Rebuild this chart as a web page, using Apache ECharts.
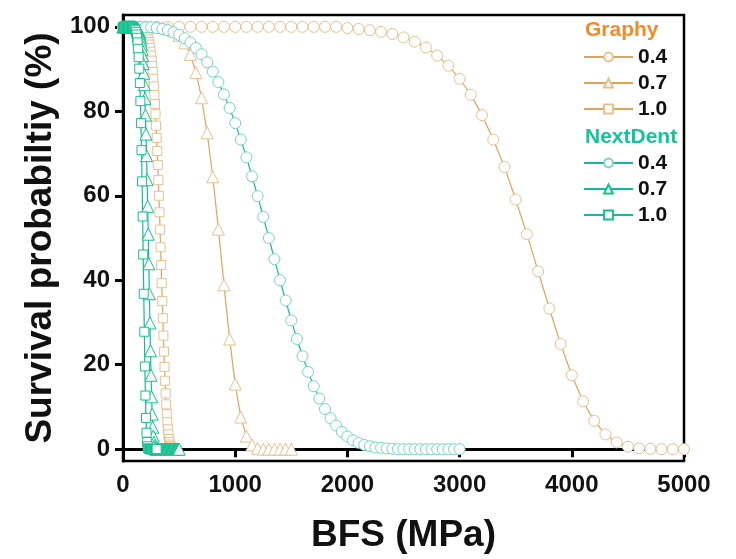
<!DOCTYPE html>
<html>
<head>
<meta charset="utf-8">
<script src="https://cdn.jsdelivr.net/npm/echarts@6/dist/echarts.min.js"></script>
<style>
html,body{margin:0;padding:0;background:#fff;}
#chart{width:736px;height:559px;}
</style>
</head>
<body>
<div id="chart"></div>
<script>
// ---------- data ----------
const xTicks = [0, 1000, 2000, 3000, 4000, 5000];
const yTicks = [0, 20, 40, 60, 80, 100];
const groupNames = ['Graphy', 'NextDent'];
const thicknessLabels = ['0.4', '0.7', '1.0'];

// BFS sampling of each curve (start, step in MPa)
const graphy04Start = 0,   graphy04Step = 100;
const graphy07Start = 0,   graphy07Step = 50;
const graphy10Start = 220, graphy10Step = 5;
const next04Start = 0,     next04Step = 50;
const next07Start = 0,     next07Step = 5;
const next10Start = 0,     next10Step = 5;

// survival probability (%)
const graphy04 = [100,100,100,100,100,100,100,100,100,100,100,100,100,100,100,100,100,100,100,100,
  99.7,99.5,99.2,98.8,98.3,97.5,96.5,95.1,93.2,90.8,87.7,83.9,79.1,73.3,66.8,59.1,50.9,42.1,33.3,24.9,
  17.5,11.3,6.7,3.5,1.6,0.6,0.2,0.1,0,0,0];
const graphy07 = [100,100,100,100,100,100,99.9,99.8,99.5,99.0,98.0,96.2,93.5,89.2,83.2,74.9,64.5,52.1,38.9,26.1,
  15.4,7.6,3.1,1.0,0.2,0,0,0,0,0,0];
const graphy10 = [97.5,97.0,96.4,95.8,95.0,94.1,93.2,92.0,90.7,89.3,87.7,85.9,83.9,81.7,79.3,76.6,73.7,70.6,67.3,63.7,
  60.0,56.1,52.0,47.8,43.6,39.3,35.1,31.0,26.9,23.1,19.5,16.2,13.2,10.6,8.3,6.4,4.7,3.5,2.4,1.7,
  1.1,0.7,0.4,0.3,0.2,0.1,0];
const next04 = [100,100,100,100,99.9,99.9,99.7,99.5,99.2,98.7,98.1,97.3,96.3,95.0,93.5,91.6,89.4,86.9,84.0,80.8,
  77.2,73.3,69.1,64.6,59.9,55.0,50.0,45.0,40.0,35.2,30.5,26.1,22.0,18.3,14.9,12.0,9.5,7.3,5.6,4.1,
  3.0,2.1,1.5,1.0,0.7,0.4,0.3,0.2,0.1,0,0,0,0,0,0,0,0,0,0,0,0];
const next07 = [100,100,100,100,100,100,100,100,100,100,100,100,100,100,100,100,100,100,100,100,
  100,99.9,99.9,99.9,99.8,99.7,99.5,99.3,99.1,98.7,98.3,97.7,96.9,95.9,94.7,93.2,91.3,89.0,86.3,83.0,
  79.1,74.6,69.5,63.8,57.5,50.9,43.9,36.8,29.9,23.3,17.5,12.4,8.3,5.2,3.1,1.6,0.8,0.3,0.1,0,
  0,0,0,0,0,0,0,0,0,0,0,0,0,0,0,0,0,0,0,0,
  0,0,0,0,0,0,0,0,0,0,0,0,0,0,0,0,0,0,0,0,0];
const next10 = [100,100,100,100,100,100,100,100,100,100,100,100,100,100,100,100,100,100,100,99.9,
  99.7,99.5,99.2,98.8,98.2,97.4,96.3,94.8,92.8,90.1,86.7,82.4,77.2,70.8,63.4,55.1,46.1,36.8,27.8,19.6,
  12.7,7.4,3.9,1.7,0.7,0.2,0.1,0,0,0,0,0,0,0,0,0,0,0,0,0,0];

// ---------- style ----------
const FONT = '"Liberation Sans", Arial, sans-serif';
const graphyLine = '#DFA35E', graphyMark = '#E8C08E', graphyHead = '#F28A2B';
const nextLine = '#14B99C', nextMark = '#12C08E', nextHead = '#12C49A';

function toPairs(start, step, vals) {
  return vals.map((v, i) => [start + i * step, v]);
}
function mk(name, data, symbol, size, line, mark) {
  return {
    name: name, type: 'line', data: data,
    symbol: symbol, symbolSize: size, showSymbol: true,
    lineStyle: { color: line, width: 1.2 },
    itemStyle: { color: '#fff', borderColor: mark, borderWidth: 1 },
    emphasis: { disabled: true },
    clip: true, animation: false
  };
}

const series = [
  mk(groupNames[0] + ' ' + thicknessLabels[0], toPairs(graphy04Start, graphy04Step, graphy04), 'circle', 11, graphyLine, graphyMark),
  mk(groupNames[0] + ' ' + thicknessLabels[1], toPairs(graphy07Start, graphy07Step, graphy07), 'triangle', 12, graphyLine, graphyMark),
  mk(groupNames[0] + ' ' + thicknessLabels[2], toPairs(graphy10Start, graphy10Step, graphy10), 'rect', 9, graphyLine, graphyMark),
  mk(groupNames[1] + ' ' + thicknessLabels[0], toPairs(next04Start, next04Step, next04), 'circle', 11, nextLine, '#72D3CB'),
  mk(groupNames[1] + ' ' + thicknessLabels[1], toPairs(next07Start, next07Step, next07), 'triangle', 12, nextLine, nextMark),
  mk(groupNames[1] + ' ' + thicknessLabels[2], toPairs(next10Start, next10Step, next10), 'rect', 9, nextLine, nextMark)
];

function legendFor(group, top) {
  return {
    data: thicknessLabels.map(t => group + ' ' + t),
    orient: 'vertical', left: 583, top: top, padding: 0,
    itemWidth: 49, itemHeight: 11, itemGap: 5,
    selectedMode: false,
    formatter: n => n.split(' ')[1],
    textStyle: { fontFamily: FONT, fontSize: 21, fontWeight: 'bold', color: '#111', lineHeight: 21 }
  };
}

const chart = echarts.init(document.getElementById('chart'), null, { renderer: 'canvas' });
chart.setOption({
  animation: false,
  backgroundColor: '#fff',
  grid: { left: 123, right: 52, top: 15, bottom: 96, show: true, borderColor: '#000', borderWidth: 2.5, backgroundColor: 'transparent' },
  xAxis: {
    type: 'value', min: xTicks[0], max: xTicks[xTicks.length - 1], interval: 1000,
    name: 'BFS (MPa)', nameLocation: 'middle', nameGap: 56,
    nameTextStyle: { fontFamily: FONT, fontSize: 37, fontWeight: 'bold', color: '#111' },
    axisLine: { lineStyle: { color: '#000', width: 3 } },
    axisTick: { length: 8, lineStyle: { color: '#000', width: 3 } },
    axisLabel: { margin: 12, fontFamily: FONT, fontSize: 24, fontWeight: 'bold', color: '#111',
      formatter: v => String(v) },
    splitLine: { show: false }
  },
  yAxis: {
    type: 'value', min: -2.8, max: 102.8,
    name: 'Survival probabiltiy (%)', nameLocation: 'middle', nameGap: 64,
    nameTextStyle: { fontFamily: FONT, fontSize: 37, fontWeight: 'bold', color: '#111' },
    axisLine: { lineStyle: { color: '#000', width: 3 } },
    axisTick: { length: 8, customValues: yTicks, lineStyle: { color: '#000', width: 3 } },
    axisLabel: { margin: 13, customValues: yTicks, fontFamily: FONT, fontSize: 24, fontWeight: 'bold', color: '#111',
      formatter: v => String(v) },
    splitLine: { show: false }
  },
  legend: [legendFor(groupNames[0], 46.5), legendFor(groupNames[1], 152.5)],
  graphic: [
    { type: 'text', left: 585, top: 19.5, style: { text: groupNames[0], fill: graphyHead, font: 'bold 21px ' + FONT } },
    { type: 'text', left: 585, top: 126.5, style: { text: groupNames[1], fill: nextHead, font: 'bold 21px ' + FONT } }
  ],
  series: series
});
</script>
</body>
</html>
